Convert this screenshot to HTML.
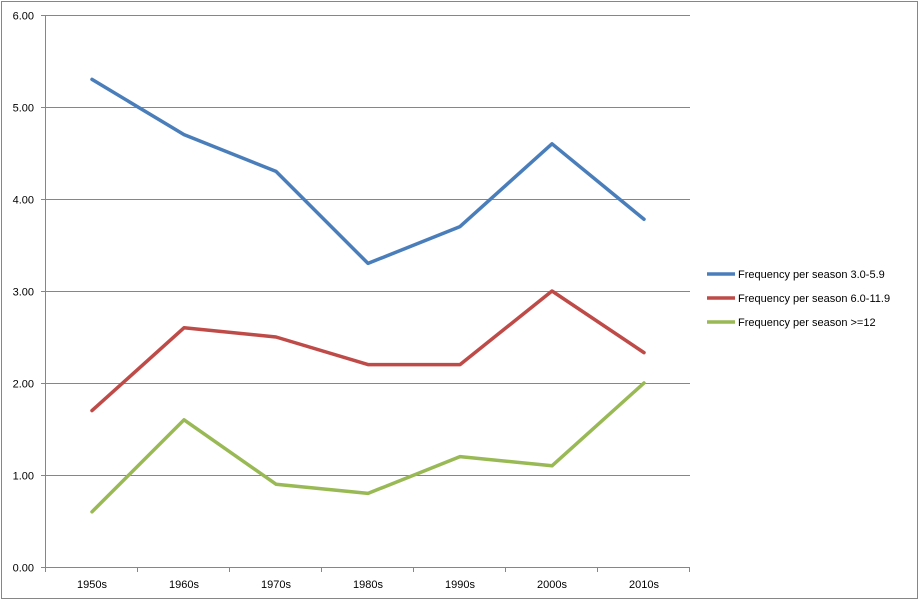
<!DOCTYPE html>
<html><head><meta charset="utf-8"><style>
body{margin:0;background:#fff}
svg{display:block;font-family:"Liberation Sans",sans-serif}
</style></head><body>
<svg id="chart" width="921" height="603" viewBox="0 0 921 603" xmlns="http://www.w3.org/2000/svg">
<rect x="1.5" y="1.5" width="916" height="597" fill="#fff" stroke="#868686"/>
<g id="grid"></g><g id="axes"></g><g id="series"></g><g id="legend"></g>
</svg>
<script>
const categories=["1950s","1960s","1970s","1980s","1990s","2000s","2010s"];
const seriesNames=["Frequency per season 3.0-5.9","Frequency per season 6.0-11.9","Frequency per season >=12"];
const seriesA=[5.3,4.7,4.3,3.3,3.7,4.6,3.78];
const seriesB=[1.7,2.6,2.5,2.2,2.2,3.0,2.33];
const seriesC=[0.6,1.6,0.9,0.8,1.2,1.1,2.0];
const yTicks=[0,1,2,3,4,5,6];
const colors=["#4a7ebb","#be4b48","#98b954"];
const NS="http://www.w3.org/2000/svg";
const x0=46,x1=690,y0=567,y1=15,yMax=6;
const band=(x1-x0)/categories.length;
const X=i=>x0+band*(i+0.5);
const Y=v=>y0-(v/yMax)*(y0-y1);
function mk(tag,attrs,parent,text){const e=document.createElementNS(NS,tag);for(const k in attrs)e.setAttribute(k,attrs[k]);if(text!==undefined)e.textContent=text;parent.appendChild(e);return e;}
const grid=document.getElementById('grid'),axes=document.getElementById('axes'),ser=document.getElementById('series'),leg=document.getElementById('legend');
yTicks.forEach(t=>{
  const y=Math.round(Y(t))+0.5;
  if(t>0){const g=mk('line',{x1:x0,x2:x1,y1:y,y2:y,stroke:'#868686','stroke-width':1},grid);
  
  }
  const tk=mk('line',{x1:x0-5,x2:x0,y1:y,y2:y,stroke:'#868686'},axes);
  
  
  const l=mk('text',{x:x0-12,y:y+4,'text-anchor':'end','font-size':11,fill:'#000'},axes,t.toFixed(2));
  
  
});
const ya=mk('line',{x1:x0-0.5,x2:x0-0.5,y1:y1,y2:y0,stroke:'#868686'},axes);


const xa=mk('line',{x1:x0,x2:x1,y1:y0+0.5,y2:y0+0.5,stroke:'#868686'},axes);


for(let i=0;i<=categories.length;i++){
  const x=Math.round(x0+band*i)-0.5;
  const tk=mk('line',{x1:x,x2:x,y1:y0,y2:y0+5,stroke:'#868686'},axes);
  
  
}
categories.forEach((c,i)=>{
  const l=mk('text',{x:X(i),y:y0+21,'text-anchor':'middle','font-size':11,fill:'#000'},axes,c);
  
  
});
[seriesA,seriesB,seriesC].forEach((s,k)=>{
  const p=mk('polyline',{points:s.map((v,i)=>X(i)+','+Y(v)).join(' '),fill:'none',stroke:colors[k],'stroke-width':3.5,'stroke-linejoin':'round','stroke-linecap':'round'},ser);
  
  
  const ly=274+k*24;
  const g=mk('g',{},leg);
  
  
  mk('line',{x1:707,x2:735,y1:ly,y2:ly,stroke:colors[k],'stroke-width':3.5},g);
  mk('text',{x:738,y:ly+4,'font-size':11,fill:'#000'},g,seriesNames[k]);
});
</script>
</body></html>
